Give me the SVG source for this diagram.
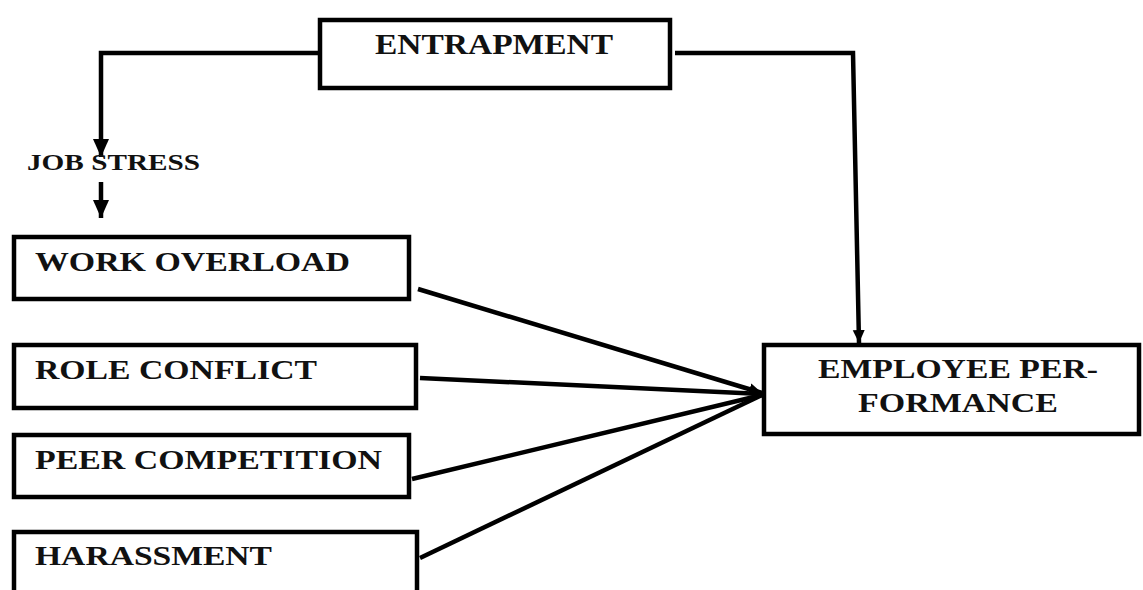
<svg xmlns="http://www.w3.org/2000/svg" width="1143" height="590" viewBox="0 0 1143 590">
<defs>
<style>
.box{fill:#fff;stroke:#000;stroke-width:4.5}
.t{font-family:"Liberation Serif","Times New Roman",serif;font-weight:bold;fill:#111}
.c{fill:none;stroke:#000;stroke-width:4.5;stroke-linejoin:miter}
</style>
<marker id="ah" markerUnits="userSpaceOnUse" markerWidth="20" markerHeight="20" viewBox="0 0 20 20" refX="18" refY="10" orient="auto">
<path d="M0,2 L18,10 L0,18 Z" fill="#000"/>
</marker>
<marker id="ahs" markerUnits="userSpaceOnUse" markerWidth="14" markerHeight="14" viewBox="0 0 14 14" refX="13" refY="7" orient="auto">
<path d="M0,1 L13,7 L0,13 Z" fill="#000"/>
</marker>
</defs>
<rect width="1143" height="590" fill="#fff"/>
<g id="connectors">
<path class="c" d="M318,53 H101 V157" marker-end="url(#ah)"/>
<path class="c" d="M101,182 V218" marker-end="url(#ah)"/>
<path class="c" d="M675,53 H853 L859,343" marker-end="url(#ahs)"/>
<path class="c" d="M418,289 L762,393" marker-end="url(#ahs)"/>
<path class="c" d="M420,378 L762,394"/>
<path class="c" d="M412,479 L762,395"/>
<path class="c" d="M420,558 L762,395"/>
</g>
<g id="entrapment">
<rect class="box" x="320" y="20" width="350" height="68"/>
<text class="t" x="375" y="54" font-size="29" textLength="238" lengthAdjust="spacingAndGlyphs">ENTRAPMENT</text>
</g>
<g id="jobstress">
<text class="t" x="27" y="170" font-size="24" textLength="173" lengthAdjust="spacingAndGlyphs">JOB STRESS</text>
</g>
<g id="workoverload">
<rect class="box" x="14" y="237" width="395" height="62"/>
<text class="t" x="35" y="271" font-size="27" textLength="315" lengthAdjust="spacingAndGlyphs">WORK OVERLOAD</text>
</g>
<g id="roleconflict">
<rect class="box" x="14" y="345" width="402" height="63"/>
<text class="t" x="35" y="379" font-size="27" textLength="282" lengthAdjust="spacingAndGlyphs">ROLE CONFLICT</text>
</g>
<g id="peercompetition">
<rect class="box" x="14" y="435" width="395" height="62"/>
<text class="t" x="35" y="469" font-size="27" textLength="347" lengthAdjust="spacingAndGlyphs">PEER COMPETITION</text>
</g>
<g id="harassment">
<rect class="box" x="14" y="532" width="403" height="70"/>
<text class="t" x="35" y="565" font-size="27" textLength="237" lengthAdjust="spacingAndGlyphs">HARASSMENT</text>
</g>
<g id="employeeperformance">
<rect class="box" x="764" y="345" width="375" height="89"/>
<text class="t" x="818" y="378" font-size="27" textLength="280" lengthAdjust="spacingAndGlyphs">EMPLOYEE PER-</text>
<text class="t" x="858" y="412" font-size="27" textLength="200" lengthAdjust="spacingAndGlyphs">FORMANCE</text>
</g>
</svg>
